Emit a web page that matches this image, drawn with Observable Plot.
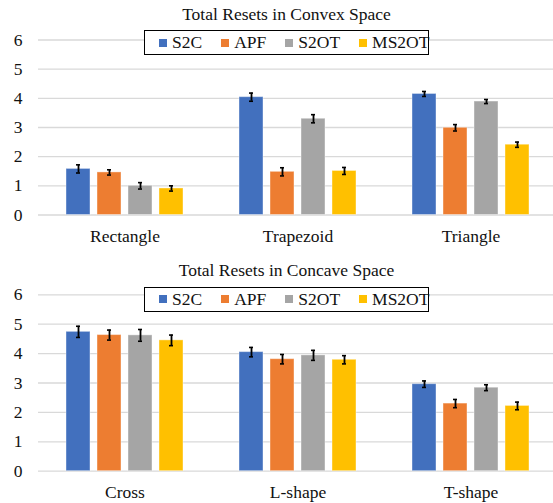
<!DOCTYPE html>
<html>
<head>
<meta charset="utf-8">
<script src="https://cdn.jsdelivr.net/npm/d3@7"></script>
<script src="https://cdn.jsdelivr.net/npm/@observablehq/plot@0.6"></script>
<style>
  html, body { margin: 0; padding: 0; background: #fff; }
  body { width: 553px; height: 503px; overflow: hidden; font-family: "Liberation Serif", "Times New Roman", serif; }
  .block { position: relative; width: 553px; }
  .title { width: 553px; box-sizing: border-box; padding-left: 20px; height: 28px; line-height: 28px; text-align: center; font-size: 17.5px; color: #111; }
  .legend { position: absolute; left: 144px; width: 285px; height: 25px; box-sizing: border-box; border: 1.5px solid #000; background: #fff; display: flex; align-items: center; padding-left: 14px; font-size: 17.5px; color: #111; z-index: 2; font-family: "Liberation Serif", serif; }
  .item { display: flex; align-items: center; margin-right: 19px; }
  .item:last-child { margin-right: 0; }
  .sw { width: 8px; height: 8px; margin-right: 5px; display: inline-block; }
  svg { display: block; }
</style>
</head>
<body>
<div id="root"></div>
<script>
const series = ["S2C", "APF", "S2OT", "MS2OT"];
const colors = ["#4270BE", "#ED7D31", "#A5A5A5", "#FFC000"];
const yTicks = [0, 1, 2, 3, 4, 5, 6];

const convexTitle = "Total Resets in Convex Space";
const convexShapes = ["Rectangle", "Trapezoid", "Triangle"];
const convexMean = [
  [1.58, 1.46, 1.00, 0.91],
  [4.04, 1.48, 3.30, 1.51],
  [4.15, 2.99, 3.89, 2.41]
];
const convexErr = [
  [0.14, 0.09, 0.11, 0.09],
  [0.14, 0.14, 0.14, 0.12],
  [0.085, 0.11, 0.07, 0.09]
];

const concaveTitle = "Total Resets in Concave Space";
const concaveShapes = ["Cross", "L-shape", "T-shape"];
const concaveMean = [
  [4.74, 4.63, 4.62, 4.45],
  [4.05, 3.81, 3.94, 3.79],
  [2.96, 2.30, 2.84, 2.22]
];
const concaveErr = [
  [0.19, 0.17, 0.20, 0.18],
  [0.16, 0.16, 0.17, 0.14],
  [0.11, 0.14, 0.10, 0.13]
];

function chart(shapes, mean, err, height, marginTop, marginBottom) {
  const data = shapes.flatMap((s, i) => series.map((k, j) => ({shape: s, series: k, value: mean[i][j], err: err[i][j]})));
  return Plot.plot({
    width: 553,
    height,
    marginTop,
    marginBottom,
    marginLeft: 37,
    marginRight: -4,
    style: {fontFamily: "'Liberation Serif', 'Times New Roman', serif", fontSize: "17.5px", color: "#111", background: "transparent", overflow: "visible"},
    fx: {domain: shapes, padding: 0, label: null, tickSize: 0, tickPadding: 14.5, axis: "bottom"},
    x: {domain: series, paddingInner: 0.22, paddingOuter: 0.88, axis: null},
    y: {domain: [0, 6], ticks: yTicks, tickSize: 0, tickPadding: 16, label: null, tickFormat: d => String(d)},
    color: {domain: series, range: colors},
    marks: [
      Plot.gridY(yTicks, {stroke: "#d9d9d9", strokeOpacity: 1, strokeWidth: 1.3}),
      Plot.barY(data, {fx: "shape", x: "series", y: "value", fill: "series", stroke: "white", strokeOpacity: 0.4, strokeWidth: 1}),
      Plot.ruleX(data, {fx: "shape", x: "series", y1: d => d.value - d.err, y2: d => d.value + d.err, stroke: "#000", strokeWidth: 1.8}),
      Plot.tickY(data, {fx: "shape", x: "series", y: d => d.value - d.err, stroke: "#000", strokeWidth: 1.6, inset: 10}),
      Plot.tickY(data, {fx: "shape", x: "series", y: d => d.value + d.err, stroke: "#000", strokeWidth: 1.6, inset: 10})
    ]
  });
}

function legend(top) {
  const lg = document.createElement("div");
  lg.className = "legend";
  lg.style.top = top + "px";
  series.forEach((s, i) => {
    const it = document.createElement("span");
    it.className = "item";
    const sw = document.createElement("span");
    sw.className = "sw";
    sw.style.background = colors[i];
    it.appendChild(sw);
    it.appendChild(document.createTextNode(s));
    lg.appendChild(it);
  });
  return lg;
}

function block(title, shapes, mean, err, height, mt, mb, legendTop) {
  const b = document.createElement("div");
  b.className = "block";
  const t = document.createElement("div");
  t.className = "title";
  t.textContent = title;
  b.appendChild(t);
  b.appendChild(chart(shapes, mean, err, height, mt, mb));
  b.appendChild(legend(legendTop));
  return b;
}

const root = document.getElementById("root");
root.appendChild(block(convexTitle, convexShapes, convexMean, convexErr, 228, 11.5, 41.5, 30));
root.appendChild(block(concaveTitle, concaveShapes, concaveMean, concaveErr, 219, 10.3, 32.3, 30.7));
</script>
</body>
</html>
